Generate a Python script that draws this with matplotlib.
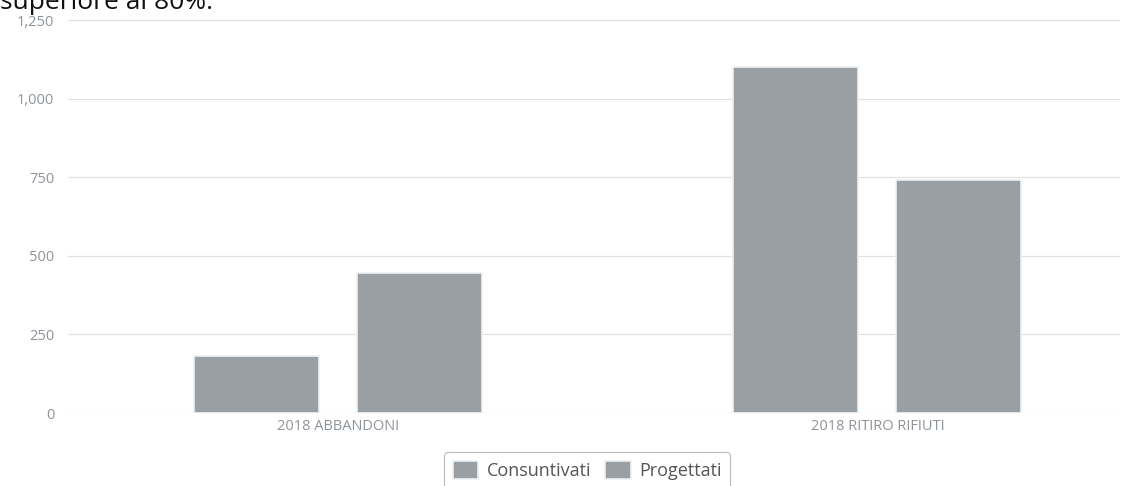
import numpy as np
import matplotlib.pyplot as plt

# dati
categorie = ['2018 ABBANDONI', '2018 RITIRO RIFIUTI']
consuntivati = [180, 1100]
progettati = [445, 740]
serie = ['Consuntivati', 'Progettati']
y_ticks = [0, 250, 500, 750, 1000, 1250]
y_labels = ['0', '250', '500', '750', '1,000', '1,250']

plt.rcParams['font.family'] = ['Open Sans', 'DejaVu Sans']

fig = plt.figure(figsize=(11.38, 4.86), dpi=100)
ax = fig.add_axes([0.0598, 0.150, 0.9245, 0.8088])

x = np.arange(len(categorie))
w = 0.232
bar_col = '#9a9fa4'
ax.bar(x - 0.151, consuntivati, width=w, color=bar_col,
       edgecolor='#eef1f3', linewidth=1.2, label=serie[0], zorder=3)
ax.bar(x + 0.151, progettati, width=w, color=bar_col,
       edgecolor='#eef1f3', linewidth=1.2, label=serie[1], zorder=3)

ax.set_xlim(-0.5, 1.45)
ax.set_ylim(0, 1250)
ax.set_yticks(y_ticks)
ax.set_yticklabels(y_labels)
ax.set_xticks(x)
ax.set_xticklabels(categorie)

ax.grid(axis='y', color='#e2e2e2', linewidth=0.9, zorder=0)
ax.tick_params(axis='both', length=0, labelsize=10.5, labelcolor='#8f949a')
ax.tick_params(axis='y', pad=10)
ax.tick_params(axis='x', pad=4)
for s in ax.spines.values():
    s.set_visible(False)

# testo tagliato in alto (pagina scansionata)
fig.text(0.0, 0.982, 'superiore al 80%.', fontsize=19, color='#111111',
         ha='left', va='baseline')

leg = fig.legend(loc='upper center', bbox_to_anchor=(0.516, 0.088),
                 ncol=2, frameon=True, fontsize=13, handlelength=1.4,
                 handleheight=1.1, handletextpad=0.45, columnspacing=0.8,
                 borderpad=0.5, fancybox=True, labelcolor='#555555')
leg.get_frame().set_edgecolor('#aaaaaa')
leg.get_frame().set_linewidth(0.8)

fig.savefig('out.png', dpi=100)
